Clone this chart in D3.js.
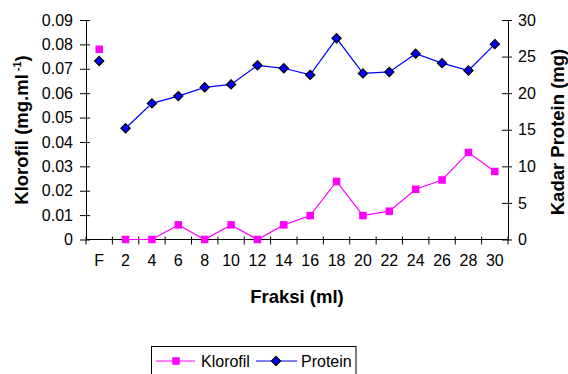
<!DOCTYPE html>
<html><head><meta charset="utf-8">
<script src="https://cdn.jsdelivr.net/npm/d3@7/dist/d3.min.js"></script>
<style>
body{margin:0;background:#fff;}
svg{display:block;font-family:"Liberation Sans",Arial,sans-serif;}
</style></head>
<body>
<svg id="c" width="568" height="374"></svg>
<script>
const categories = ["F","2","4","6","8","10","12","14","16","18","20","22","24","26","28","30"];
const klorofil = [0.078,0,0,0.006,0,0.006,0,0.006,0.0098,0.0238,0.0098,0.0116,0.0206,0.0244,0.0357,0.0279];
const protein = [24.4,15.2,18.6,19.6,20.8,21.2,23.8,23.4,22.5,27.5,22.7,22.9,25.4,24.1,23.1,26.7];
const leftTicks = [0,0.01,0.02,0.03,0.04,0.05,0.06,0.07,0.08,0.09];
const rightTicks = [0,5,10,15,20,25,30];

const svg = d3.select("#c");
const L = 86, R = 508, T = 20, B = 239.5;
const x = d3.scaleBand().domain(categories).range([L, R]).padding(0);
const yL = d3.scaleLinear().domain([0, 0.09]).range([B, T]);
const yR = d3.scaleLinear().domain([0, 30]).range([B, T]);
const cx = c => x(c) + x.bandwidth() / 2;
const axisColor = "#000";

// Left axis
const gL = svg.append("g").attr("transform", `translate(${L},0)`)
  .call(d3.axisLeft(yL).tickValues(leftTicks).tickFormat(d => d === 0 ? "0" : d3.format(".2f")(d)).tickSizeInner(6).tickSizeOuter(0).tickPadding(7));
gL.selectAll(".tick line").attr("x2", -6).attr("x1", 4);
// Right axis
const gR = svg.append("g").attr("transform", `translate(${R},0)`)
  .call(d3.axisRight(yR).tickValues(rightTicks).tickSizeInner(4).tickSizeOuter(0).tickPadding(6));
gR.selectAll(".tick line").attr("x1", -6).attr("x2", 4);
// Bottom axis labels
const gB = svg.append("g").attr("transform", `translate(0,${B})`)
  .call(d3.axisBottom(x).tickSize(0).tickPadding(15));
gB.select(".domain").attr("d", `M${L},0H${R}`);
// band boundary ticks
const bounds = categories.map(c => x(c)).concat([R]);
svg.append("g").selectAll("line").data(bounds).join("line")
  .attr("x1", d => d).attr("x2", d => d).attr("y1", B - 3).attr("y2", B + 5)
  .attr("stroke", axisColor).attr("stroke-width", 1);

[gL, gR, gB].forEach(g => {
  g.selectAll(".domain").attr("stroke", axisColor).attr("stroke-width", 1);
  g.selectAll(".tick line").attr("stroke", axisColor);
  g.selectAll("text").attr("font-size", 16).attr("fill", "#000").attr("font-family", "Liberation Sans, Arial, sans-serif");
});

// data
const kData = categories.map((c, i) => ({c, v: klorofil[i]}));
const pData = categories.map((c, i) => ({c, v: protein[i]}));

svg.append("path").datum(kData)
  .attr("d", d3.line().defined(d => d.c !== "F").x(d => cx(d.c)).y(d => yL(d.v)))
  .attr("fill", "none").attr("stroke", "#FF00FF").attr("stroke-width", 1.2);
svg.append("path").datum(pData)
  .attr("d", d3.line().defined(d => d.c !== "F").x(d => cx(d.c)).y(d => yR(d.v)))
  .attr("fill", "none").attr("stroke", "#0000FF").attr("stroke-width", 1.2);

const sq = 7.5;
svg.append("g").selectAll("rect").data(kData).join("rect")
  .attr("x", d => cx(d.c) - sq / 2).attr("y", d => yL(d.v) - sq / 2)
  .attr("width", sq).attr("height", sq).attr("fill", "#FF00FF");

const dm = 4.6;
const diamond = (px, py) => `M${px},${py - dm}L${px + dm},${py}L${px},${py + dm}L${px - dm},${py}Z`;
svg.append("g").selectAll("path").data(pData).join("path")
  .attr("d", d => diamond(cx(d.c), yR(d.v)))
  .attr("fill", "#0000FF").attr("stroke", "#000").attr("stroke-width", 1.2);

// Titles
svg.append("text").attr("x", (L + R) / 2).attr("y", 303).attr("text-anchor", "middle")
  .attr("font-size", 18.5).attr("font-weight", "bold").text("Fraksi (ml)");
const lt = svg.append("text").attr("transform", "translate(28,130) rotate(-90)")
  .attr("text-anchor", "middle").attr("font-size", 18.5).attr("font-weight", "bold");
lt.append("tspan").text("Klorofil (mg.ml");
lt.append("tspan").attr("font-size", 11).attr("dx", 3).attr("dy", -7).text("-1");
lt.append("tspan").attr("dy", 7).text(")");
svg.append("text").attr("transform", "translate(564,132) rotate(-90)")
  .attr("text-anchor", "middle").attr("font-size", 18.5).attr("font-weight", "bold").text("Kadar Protein (mg)");

// Legend
const lg = svg.append("g");
lg.append("rect").attr("x", 151.5).attr("y", 346.5).attr("width", 204.5).attr("height", 40)
  .attr("fill", "#fff").attr("stroke", "#000").attr("stroke-width", 1);
const ly = 361;
lg.append("line").attr("x1", 156).attr("x2", 195).attr("y1", ly).attr("y2", ly).attr("stroke", "#FF00FF").attr("stroke-width", 1.2);
lg.append("rect").attr("x", 176 - sq / 2).attr("y", ly - sq / 2).attr("width", sq).attr("height", sq).attr("fill", "#FF00FF");
lg.append("text").attr("x", 201).attr("y", ly + 6).attr("font-size", 16).text("Klorofil");
lg.append("line").attr("x1", 256).attr("x2", 297).attr("y1", ly).attr("y2", ly).attr("stroke", "#0000FF").attr("stroke-width", 1.2);
lg.append("path").attr("d", diamond(276, ly)).attr("fill", "#0000FF").attr("stroke", "#000").attr("stroke-width", 1.2);
lg.append("text").attr("x", 301).attr("y", ly + 6).attr("font-size", 16).text("Protein");
</script>
</body></html>
